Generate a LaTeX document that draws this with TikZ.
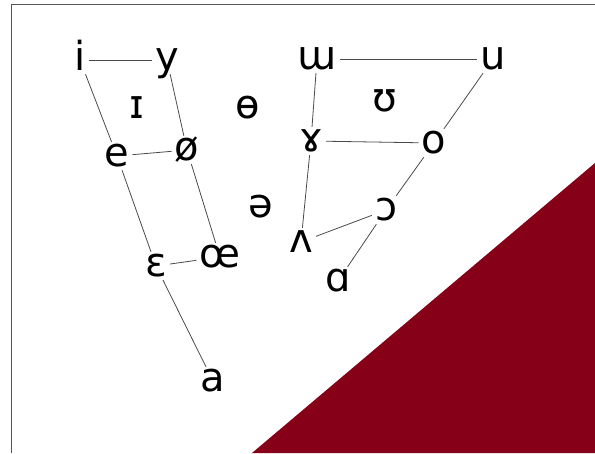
\documentclass[tikz,border=0pt]{standalone}
\usepackage{fontspec}
\usepackage{xcolor}
\usepackage{tikz}
\newfontfamily\ipafont{DejaVu Sans}
\definecolor{slidered}{HTML}{860017}
\definecolor{framegray}{HTML}{555555}
\definecolor{linkgray}{HTML}{4A4A4A}

\begin{document}
\begin{tikzpicture}[x=1pt,y=1pt,
      vowel/.style={inner sep=3pt,anchor=base,text height=22pt,text depth=0pt,
                    font=\ipafont\fontsize{40}{40}\selectfont},
      link/.style={draw=linkgray,line width=0.8pt}]
    \useasboundingbox (0,0) rectangle (595,453);
    \fill[slidered] (252,0) -- (595,290) -- (595,0) -- cycle;
    \draw[framegray,line width=1pt] (11,0) -- (11,448) -- (595,448);
    % front vowels
    \node[vowel] (i)       at(80,382)  {i};
    \node[vowel] (y)       at(167,382) {y};
    \node[vowel] (e)       at(117,286) {e};
    \node[vowel] (oslash)  at(187,292) {ø};
    \node[vowel] (epsilon) at(156,176) {ɛ};
    \node[vowel] (oe)      at(220,185) {œ};
    \node[vowel] (a)       at(213,61)  {a};
    % central vowels
    \node[vowel] (smalli)  at(137,334) {ɪ};
    \node[vowel] (barredo) at(248,334) {ɵ};
    \node[vowel] (schwa)   at(261,235) {ə};
    \node[vowel] (upsilon) at(385,341) {ʊ};
    % back vowels
    \node[vowel] (ww)      at(317,383) {ɯ};
    \node[vowel] (u)       at(493,383) {u};
    \node[vowel] (ramshorn) at(311,301) {ɤ};
    \node[vowel] (o)       at(434,299) {o};
    \node[vowel] (wedge)   at(301,200) {ʌ};
    \node[vowel] (openo)   at(386,232) {ɔ};
    \node[vowel] (alpha)   at(338,161) {ɑ};
    % edges of the chart
    \draw[link] (i) -- (y);
    \draw[link] (i) -- (e);
    \draw[link] (y) -- (oslash);
    \draw[link] (e) -- (oslash);
    \draw[link] (e) -- (epsilon);
    \draw[link] (oslash) -- (oe);
    \draw[link] (epsilon) -- (oe);
    \draw[link] (epsilon) -- (a);
    \draw[link] (ww) -- (u);
    \draw[link] (ww) -- (ramshorn);
    \draw[link] (u) -- (o);
    \draw[link] (ramshorn) -- (o);
    \draw[link] (ramshorn) -- (wedge);
    \draw[link] (o) -- (openo);
    \draw[link] (wedge) -- (openo);
    \draw[link] (openo) -- (alpha);
  \end{tikzpicture}
\end{document}
